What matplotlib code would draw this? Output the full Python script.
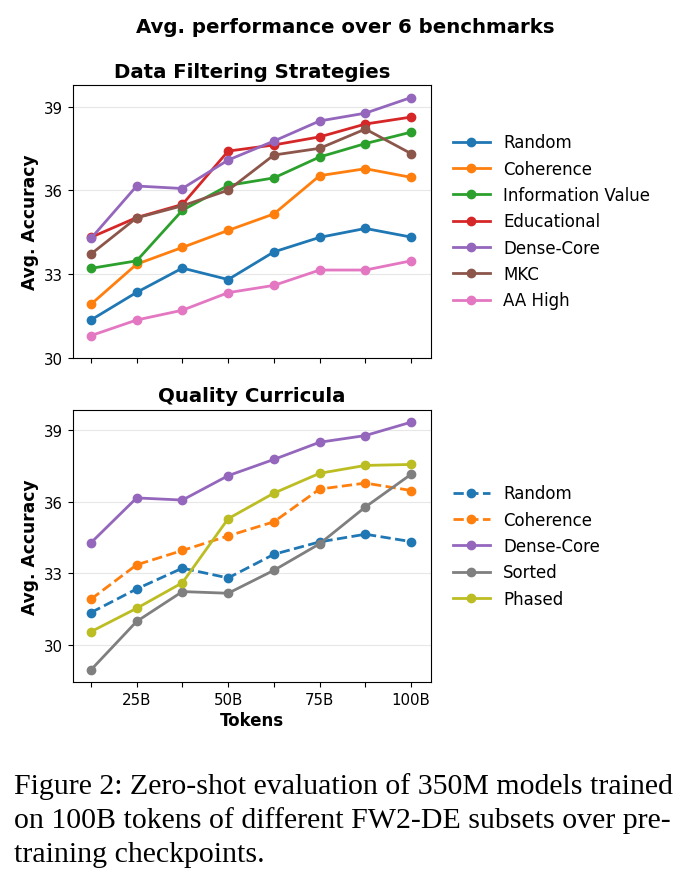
import matplotlib
matplotlib.use("Agg")
import matplotlib.pyplot as plt

# checkpoints (billions of tokens)
tokens = [12.5, 25, 37.5, 50, 62.5, 75, 87.5, 100]
tick_vals = [25, 50, 75, 100]
tick_labels = ['25B', '50B', '75B', '100B']

# avg. accuracy per strategy
random_acc = [31.36, 32.35, 33.22, 32.81, 33.80, 34.32, 34.64, 34.33]
coherence = [31.92, 33.36, 33.96, 34.57, 35.16, 36.53, 36.78, 36.47]
info_value = [33.21, 33.48, 35.29, 36.18, 36.45, 37.20, 37.68, 38.09]
educational = [34.32, 35.03, 35.50, 37.41, 37.63, 37.92, 38.38, 38.63]
dense_core = [34.28, 36.16, 36.07, 37.09, 37.77, 38.49, 38.77, 39.33]
mkc = [33.72, 35.02, 35.45, 36.01, 37.27, 37.51, 38.20, 37.32]
aa_high = [30.80, 31.36, 31.71, 32.34, 32.60, 33.15, 33.15, 33.48]

# curricula
sorted_acc = [28.96, 30.99, 32.24, 32.17, 33.13, 34.24, 35.78, 37.15]
phased = [30.56, 31.54, 32.61, 35.29, 36.36, 37.19, 37.52, 37.56]

fig = plt.figure(figsize=(6.91, 8.87), dpi=100)
ax1 = fig.add_axes([0.1056, 0.5953, 0.518, 0.3078])
ax2 = fig.add_axes([0.1056, 0.2296, 0.518, 0.3073])

kw = dict(marker='o', linewidth=2, markersize=6)

filt = [
    ('Random', random_acc, 'C0'),
    ('Coherence', coherence, 'C1'),
    ('Information Value', info_value, 'C2'),
    ('Educational', educational, 'C3'),
    ('Dense-Core', dense_core, 'C4'),
    ('MKC', mkc, 'C5'),
    ('AA High', aa_high, 'C6'),
]
for name, vals, c in filt:
    ax1.plot(tokens, vals, color=c, label=name, **kw)

ax2.plot(tokens, random_acc, color='C0', linestyle='--', label='Random', **kw)
ax2.plot(tokens, coherence, color='C1', linestyle='--', label='Coherence', **kw)
ax2.plot(tokens, dense_core, color='C4', label='Dense-Core', **kw)
ax2.plot(tokens, sorted_acc, color='C7', label='Sorted', **kw)
ax2.plot(tokens, phased, color='C8', label='Phased', **kw)

ax1.set_ylim(30, 39.78)
ax1.set_title('Data Filtering Strategies', fontsize=14.2, fontweight='bold')
ax2.set_title('Quality Curricula', fontsize=14.2, fontweight='bold')

for ax in (ax1, ax2):
    ax.set_yticks([30, 33, 36, 39])
    ax.set_xticks(tokens)
    ax.set_xticklabels([''] * len(tokens))
    ax.set_xlim(7.6, 105.4)
    ax.grid(True, axis='y', alpha=0.3)
    ax.set_ylabel('Avg. Accuracy', fontsize=12.3, fontweight='bold')
    ax.tick_params(labelsize=10.8)
    ax.legend(loc='center left', bbox_to_anchor=(1.02, 0.5), frameon=False,
              fontsize=12, handlelength=2.2)

ax2.set_xticklabels([tick_labels[tick_vals.index(t)] if t in tick_vals else ''
                     for t in tokens])
ax2.set_xlabel('Tokens', fontsize=12, fontweight='bold', labelpad=3)

fig.suptitle('Avg. performance over 6 benchmarks', x=0.5, y=0.98,
             fontsize=14.2, fontweight='bold')

caption = ("Figure 2: Zero-shot evaluation of 350M models trained\n"
           "on 100B tokens of different FW2-DE subsets over pre-\n"
           "training checkpoints.")
fig.text(0.02, 0.129, caption, family='Liberation Serif', fontsize=21.5,
         va='top', ha='left', linespacing=1.38)

fig.savefig('out.png', dpi=100)
